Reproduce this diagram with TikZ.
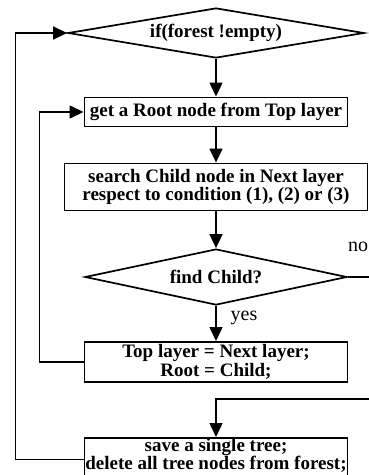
\documentclass[tikz,border=0pt]{standalone}
\usepackage{fontspec}
\setmainfont{Liberation Serif}
\usepackage{tikz}
\usetikzlibrary{shapes.geometric}
\usetikzlibrary{arrows.meta}

\begin{document}
\begin{tikzpicture}[
    x=1pt, y=-1pt,
    >={Triangle[length=14pt,width=13pt]},
    line width=1.4pt,
    box/.style={draw, line width=1.9pt, inner sep=0pt, minimum width=263pt,
      align=center, font=\bfseries\fontsize{19}{15.5}\selectfont},
    cond/.style={draw, diamond, shape aspect=5, line width=1.7pt, inner sep=0pt,
      font=\bfseries\fontsize{19}{15.5}\selectfont},
    lbl/.style={font=\fontsize{20}{20}\selectfont},
]
    \useasboundingbox (0,0) rectangle (369,475);
    \node (forest) at (216,33) [cond, minimum width=296pt, minimum height=50pt] {if(forest !empty)};
    \node (root) at (216,112) [box, minimum height=29pt] {get a Root node from Top layer};
    \node (search) at (216,187) [box, minimum width=303pt, minimum height=47pt]
      {search Child node in Next layer\\respect to condition (1), (2) or (3)};
    \node (child) at (216,277) [cond, minimum width=262pt, minimum height=56pt] {find Child?};
    \node (next) at (216,362) [box, minimum height=40pt] {Top layer = Next layer;\\Root = Child;};
    \node (save) at (216,437) [box, anchor=north, text depth=11pt]
      {save a single tree;\\delete all tree nodes from forest;};
    \node (no) at (358,247) [lbl] {no};
    \node (yes) at (244,318) [lbl] {yes};
    \coordinate (edge) at (385,277);
    \coordinate (turn) at (216,399);

    \draw[->] (forest) -- (root);
    \draw[->] (root) -- (search);
    \draw[->] (search) -- (child);
    \draw[->] (child) -- (next);
    \draw[->] (next.west) -- ++(-44,0) |- (root.west);
    \draw[->] (child.east) -- (edge) -- (edge |- turn) -- (turn) -- (save);
    \draw[->] (save.west) -- ++(-68,0) |- (forest.west);
\end{tikzpicture}
\end{document}
